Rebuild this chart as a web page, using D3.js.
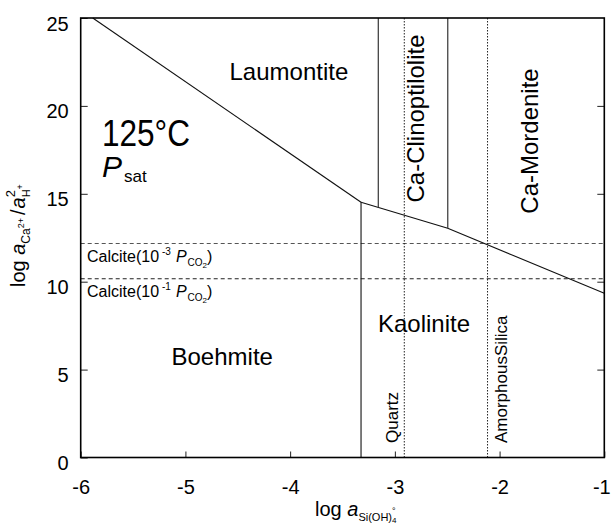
<!DOCTYPE html>
<html>
<head>
<meta charset="utf-8">
<script src="https://cdn.jsdelivr.net/npm/d3@7"></script>
<style>
  html, body { margin: 0; padding: 0; background: #fff; }
  svg { display: block; font-family: "Liberation Sans", Arial, Helvetica, sans-serif; }
  svg text { white-space: pre; }
</style>
</head>
<body>
<svg id="chart" width="612" height="526"></svg>
<script>
// Activity diagram, Ca-system at 125 °C, P_sat
const xTicks = [-6, -5, -4, -3, -2, -1];
const yTicks = [0, 5, 10, 15, 20, 25];

// Phase boundaries (log aSi(OH)4, log aCa2+/a2H+)
const laumontiteBoehmite = [[-5.885, 25], [-3.323, 14.52]];
const kaoliniteBoehmite = [[-3.323, 0], [-3.323, 14.52]];
const kaoliniteZeolites = [[-3.323, 14.52], [-2.495, 13.04], [-1, 9.34]];
const zeoliteBoundaries = [
  [[-3.158, 14.23], [-3.158, 25]],
  [[-2.495, 13.04], [-2.495, 25]]
];

// Calcite saturation levels (dashed)
const calciteLevels = [12.17, 10.17];
const calciteExponents = ["-3", "-1"];

// Silica saturation (dotted)
const silicaNames = ["Quartz", "AmorphousSilica"];
const silicaLevels = [-2.91, -2.115];

// Stability field names
const fieldNames = ["Laumontite", "Ca-Clinoptilolite", "Ca-Mordenite", "Kaolinite", "Boehmite"];

const svg = d3.select("#chart");
const margin = { left: 80.7, right: 7.7, top: 18, bottom: 68.5 };
const W = 612, H = 526;
const x = d3.scaleLinear().domain([-6, -1]).range([margin.left, W - margin.right]);
const y = d3.scaleLinear().domain([0, 25]).range([H - margin.bottom, margin.top]);

const plot = svg.append("g");
const line = d3.line().x(d => x(d[0])).y(d => y(d[1]));

// Calcite dashed lines
plot.selectAll(".calcite").data(calciteLevels).join("line")
  .attr("x1", x(-6)).attr("x2", x(-1))
  .attr("y1", d => y(d)).attr("y2", d => y(d))
  .attr("stroke", (d, i) => i === 0 ? "#555" : "#222")
  .attr("stroke-width", 1.1)
  .attr("stroke-dasharray", "4,3");

// Silica dotted lines
plot.selectAll(".silica").data(silicaLevels).join("line")
  .attr("x1", d => x(d)).attr("x2", d => x(d))
  .attr("y1", y(0)).attr("y2", y(25))
  .attr("stroke", "#222").attr("stroke-width", 1)
  .attr("stroke-dasharray", "1.5,1.5");

// Phase boundaries
[laumontiteBoehmite, kaoliniteBoehmite, kaoliniteZeolites].forEach(seg => {
  plot.append("path").attr("d", line(seg))
    .attr("fill", "none").attr("stroke", "#111").attr("stroke-width", 1.1);
});
zeoliteBoundaries.forEach(seg => {
  plot.append("path").attr("d", line(seg))
    .attr("fill", "none").attr("stroke", "#444").attr("stroke-width", 1.3);
});

// Axes
const fmt = d => String(d);
const xAxis = d3.axisBottom(x).tickValues(xTicks).tickSizeInner(-6).tickSizeOuter(0).tickFormat(fmt);
const yAxis = d3.axisLeft(y).tickValues(yTicks).tickSizeInner(-7).tickSizeOuter(0).tickFormat(fmt);
const yAxisR = d3.axisRight(y).tickValues(yTicks.slice(1, 5)).tickSizeInner(-7).tickSizeOuter(0).tickFormat("");

const gx = svg.append("g").attr("transform", `translate(0,${y(0)})`).call(xAxis);
gx.selectAll("text").attr("font-size", 20).attr("font-family", "Liberation Sans, Arial").attr("fill", "#000")
  .attr("dy", null).attr("y", 36).attr("dx", d => d === -1 ? -3 : 0);
const gy = svg.append("g").attr("transform", `translate(${x(-6)},0)`).call(yAxis);
gy.selectAll("text").attr("font-size", 20).attr("font-family", "Liberation Sans, Arial").attr("fill", "#000").attr("dy", null).attr("x", -12).attr("y", 12);
const gr = svg.append("g").attr("transform", `translate(${x(-1)},0)`).call(yAxisR);
[gx, gy, gr].forEach(g => { g.select(".domain").remove(); g.selectAll("line").attr("stroke", "#222").attr("stroke-width", 1); });

// Frame
svg.append("rect")
  .attr("x", x(-6)).attr("y", y(25))
  .attr("width", x(-1) - x(-6)).attr("height", y(0) - y(25))
  .attr("fill", "none").attr("stroke", "#000").attr("stroke-width", 1.6);

// Rich text helper: sequential parts with optional stacked sub/superscripts
function rich(g, parts) {
  let cx = 0, pendingW = 0;
  parts.forEach(p => {
    const t = g.append("text")
      .attr("x", cx + (p.dx || 0)).attr("y", p.dy || 0)
      .attr("font-size", p.size)
      .attr("font-style", p.italic ? "italic" : null)
      .attr("fill", "#000")
      .text(p.t);
    const w = t.node().getComputedTextLength() + (p.dx || 0);
    if (p.stack) { pendingW = Math.max(pendingW, w); }
    else { cx += Math.max(w, pendingW); pendingW = 0; }
  });
  return cx;
}

// Field labels
const lab = svg.append("g").attr("font-size", 24).attr("fill", "#000");
lab.append("text").attr("x", 229.5).attr("y", 80).text(fieldNames[0]);
lab.append("text").attr("transform", "translate(424,118.5) rotate(-90)").attr("text-anchor", "middle").text(fieldNames[1]);
lab.append("text").attr("transform", "translate(538,141) rotate(-90)").attr("text-anchor", "middle").text(fieldNames[2]);
lab.append("text").attr("x", 424).attr("y", 332).attr("text-anchor", "middle").text(fieldNames[3]);
lab.append("text").attr("x", 171.5).attr("y", 365).text(fieldNames[4]);

// Silica labels
silicaNames.forEach((s, i) => {
  svg.append("text")
    .attr("transform", `translate(${x(silicaLevels[i]) + (i === 0 ? -6.5 : 19.5)},443) rotate(-90)`)
    .attr("font-size", 17).attr("fill", "#000").text(s);
});

// Temperature / pressure annotation
svg.append("text").attr("x", 102).attr("y", 146).attr("font-size", 37)
  .attr("textLength", 88).attr("lengthAdjust", "spacingAndGlyphs").text("125°C");
rich(svg.append("g").attr("transform", "translate(102,177)"), [
  { t: "P", size: 30, italic: true },
  { t: "sat", size: 17, dy: 5, dx: 2 }
]);

// Calcite labels
calciteLevels.forEach((v, i) => {
  const g = svg.append("g").attr("transform", `translate(87,${y(v) + 18.5})`);
  rich(g, [
    { t: "Calcite(10", size: 16 },
    { t: calciteExponents[i], size: 10, dy: -7, dx: 3 },
    { t: "P", size: 16, italic: true, dx: 5 },
    { t: "CO", size: 10, dy: 4, dx: 1 },
    { t: "2", size: 8, dy: 6 },
    { t: ")", size: 16 }
  ]);
});

// Axis titles
rich(svg.append("g").attr("transform", "translate(315,516)"), [
  { t: "log ", size: 20 },
  { t: "a", size: 20, italic: true },
  { t: "Si(OH)", size: 11, dy: 5 },
  { t: "°", size: 9, dy: -2, stack: true },
  { t: "4", size: 8, dy: 7 }
]);
rich(svg.append("g").attr("transform", "translate(25,287) rotate(-90)"), [
  { t: "log ", size: 20 },
  { t: "a", size: 20, italic: true },
  { t: "Ca", size: 12, dy: 5 },
  { t: "2+", size: 9, dy: -1 },
  { t: "/", size: 20, dx: 3 },
  { t: "a", size: 20, italic: true, dx: 1 },
  { t: "2", size: 13, dy: -10, stack: true },
  { t: "H", size: 11, dy: 5 },
  { t: "+", size: 9, dy: -2 }
]);
</script>
</body>
</html>
